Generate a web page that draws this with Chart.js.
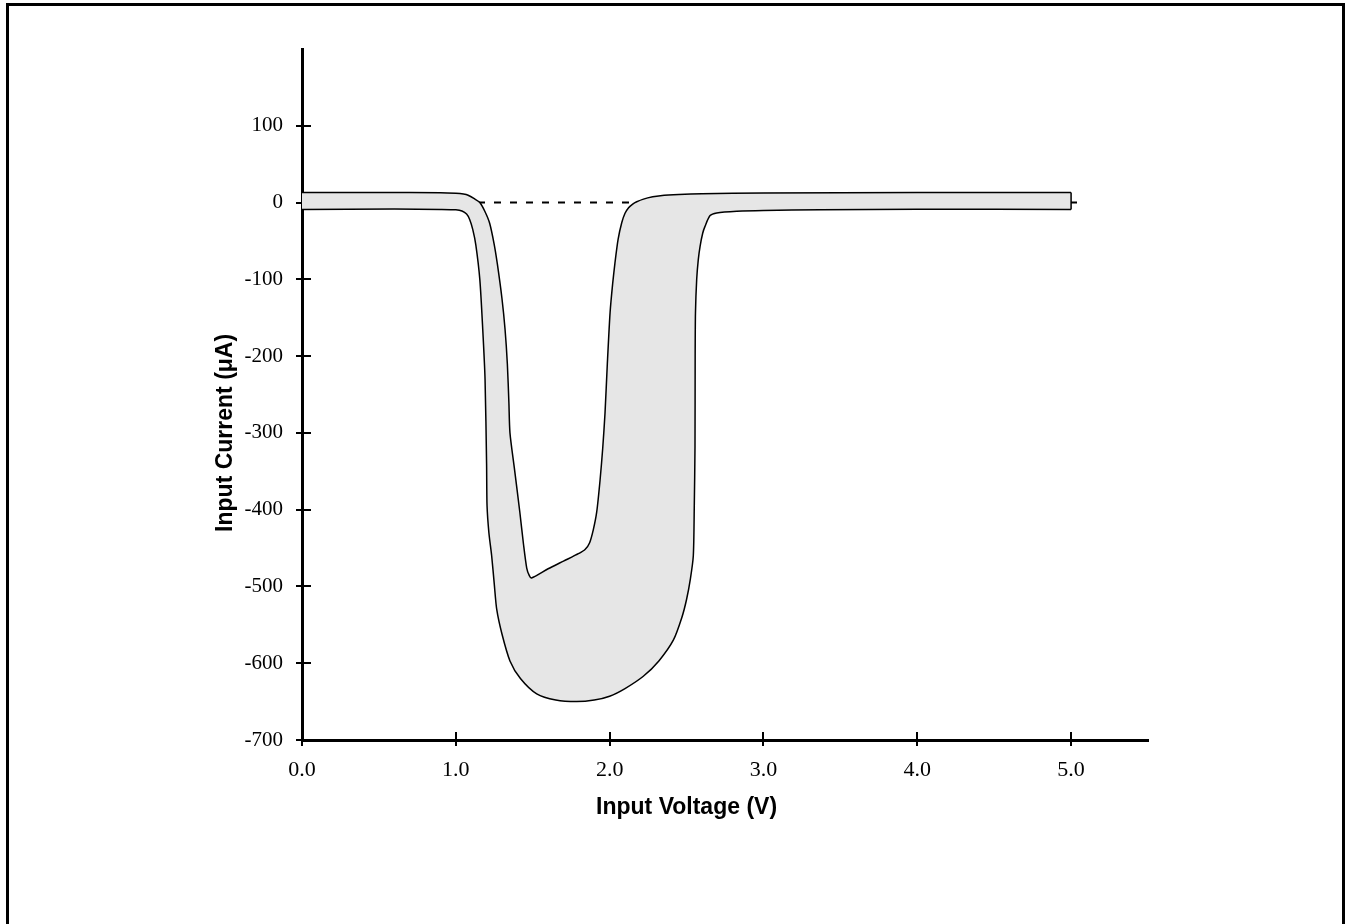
<!DOCTYPE html>
<html>
<head>
<meta charset="utf-8">
<script src="https://cdn.jsdelivr.net/npm/chart.js@4.4.1/dist/chart.umd.min.js"></script>
<style>
  html, body { margin: 0; padding: 0; background: #fff; overflow: hidden; }
  #marco { position: absolute; left: 6px; top: 3px; width: 1333px; height: 1000px; border: 3px solid #000; border-bottom: none; }
  #caja { position: absolute; left: 0; top: 0; width: 1346px; height: 924px; }
</style>
</head>
<body>
<div id="marco"></div>
<div id="caja"><canvas id="grafico" width="1346" height="924"></canvas></div>
<script>
// curva superior de la banda (corriente máxima)
const vSuperior = [0, 0.5, 0.9, 1.0, 1.05, 1.08, 1.12, 1.156, 1.19, 1.22, 1.25, 1.27, 1.30, 1.32, 1.335, 1.345, 1.352, 1.38, 1.416, 1.44, 1.461, 1.478, 1.492,
    1.6, 1.7, 1.8, 1.84, 1.87, 1.894, 1.916, 1.938, 1.955, 1.97, 1.985, 2.003, 2.02, 2.035, 2.055, 2.079, 2.10, 2.122, 2.15, 2.176, 2.22, 2.28, 2.33, 2.45, 2.6, 3.0, 4.0, 5.0];
const iSuperior = [13, 13, 12.8, 12, 11, 9.5, 5, 0, -12, -27, -55, -80, -125, -165, -210, -260, -300, -345, -403, -445, -476, -486, -489,
    -477, -467, -457, -452, -443, -426, -403, -361, -320, -274, -210, -143, -105, -78, -48, -26, -14, -7, -2, 1, 4.5, 7.5, 9, 10.5, 11.5, 12.5, 13, 13];

// curva inferior de la banda (corriente mínima)
const vInferior = [0, 0.6, 0.9, 1.0, 1.04, 1.07, 1.09, 1.11, 1.13, 1.156, 1.175, 1.19, 1.2, 1.203, 1.215, 1.233, 1.25, 1.266, 1.30, 1.352, 1.42, 1.526, 1.65, 1.786,
    1.9, 2.0, 2.1, 2.219, 2.32, 2.414, 2.47, 2.50, 2.525, 2.544, 2.55, 2.555, 2.556, 2.558, 2.566, 2.576, 2.588, 2.605, 2.62, 2.653, 2.696, 2.826, 3.0, 3.37, 4.0, 5.0];
const iInferior = [-9, -8.5, -9, -9.5, -11, -15, -22, -35, -55, -100, -165, -230, -340, -395, -430, -460, -497, -530, -562, -597, -620, -640, -648, -650,
    -648, -643, -633, -617, -597, -570, -540, -517, -490, -460, -400, -317, -200, -144, -100, -75, -57, -40, -31, -17, -13.5, -11.3, -10.2, -9.4, -8.8, -9];

const ticksX = [0, 1, 2, 3, 4, 5];
const ticksY = [100, 0, -100, -200, -300, -400, -500, -600, -700];
const lineaCero = [0, 5.05];

const puntos = (xs, ys) => xs.map((x, i) => ({ x, y: ys[i] }));

const marcasInternas = {
    id: "marcasInternas",
    beforeDatasetsDraw(chart) {
        const { ctx, scales: { x, y } } = chart;
        ctx.save();
        ctx.strokeStyle = "#000";
        ctx.lineWidth = 2;
        ctx.beginPath();
        const x0 = x.getPixelForValue(0);
        ticksY.forEach((v) => {
            const py = Math.round(y.getPixelForValue(v));
            ctx.moveTo(x0, py);
            ctx.lineTo(x0 + 9, py);
        });
        const y0 = y.getPixelForValue(-700);
        ticksX.forEach((v) => {
            const px = Math.round(x.getPixelForValue(v));
            ctx.moveTo(px, y0);
            ctx.lineTo(px, y0 - 8);
        });
        ctx.stroke();
        ctx.restore();
    },
};

const titulos = {
    id: "titulos",
    afterDraw(chart) {
        const { ctx, scales: { x, y } } = chart;
        ctx.save();
        ctx.fillStyle = "#000";
        ctx.font = 'bold 23px "Liberation Sans", Arial, sans-serif';
        ctx.textAlign = "center";
        ctx.textBaseline = "middle";
        ctx.fillText("Input Voltage (V)", x.getPixelForValue(2.5), 808);
        ctx.translate(226, y.getPixelForValue(-300));
        ctx.rotate(-Math.PI / 2);
        ctx.fillText("Input Current (μA)", 0, 0);
        ctx.restore();
    },
};

const serif = '"Liberation Serif", "Times New Roman", serif';

new Chart(document.getElementById("grafico"), {
    type: "line",
    data: {
        datasets: [
            { data: [{ x: 5, y: iSuperior[iSuperior.length - 1] }, { x: 5, y: iInferior[iInferior.length - 1] }], borderColor: "#000", borderWidth: 1.5, fill: false, order: 0 },
            { data: puntos(vInferior, iInferior), borderColor: "#000", borderWidth: 1.5, fill: false, tension: 0.25, order: 1 },
            { data: puntos(vSuperior, iSuperior), borderColor: "#000", borderWidth: 1.5, backgroundColor: "#e6e6e6", fill: 1, tension: 0.25, order: 2 },
            { data: lineaCero.map((x) => ({ x, y: 0 })), borderColor: "#000", borderWidth: 2, borderDash: [7, 9], fill: false, order: 3 },
        ],
    },
    options: {
        responsive: false,
        animation: false,
        layout: { padding: { top: 49, right: 198, left: 0, bottom: 0 } },
        elements: { point: { radius: 0 } },
        plugins: { legend: { display: false }, tooltip: { enabled: false } },
        scales: {
            x: {
                type: "linear", min: 0, max: 5.5, z: 1,
                afterBuildTicks: (s) => { s.ticks = ticksX.map((v) => ({ value: v })); },
                afterFit: (s) => { s.height = 924 - 740; },
                border: { color: "#000", width: 3 },
                grid: { drawOnChartArea: false, color: "#000", lineWidth: 2, tickLength: 6 },
                ticks: { color: "#000", font: { family: serif, size: 22 }, padding: 11, maxRotation: 0, autoSkip: false, callback: (v) => v.toFixed(1) },
            },
            y: {
                min: -700, max: 200, z: 1,
                afterBuildTicks: (s) => { s.ticks = ticksY.map((v) => ({ value: v })); },
                afterFit: (s) => { s.width = 302; },
                border: { color: "#000", width: 3 },
                grid: { drawOnChartArea: false, color: "#000", lineWidth: 2, tickLength: 6 },
                ticks: { color: "#000", font: { family: serif, size: 21 }, padding: 13, autoSkip: false },
            },
        },
    },
    plugins: [marcasInternas, titulos],
});
</script>
</body>
</html>
